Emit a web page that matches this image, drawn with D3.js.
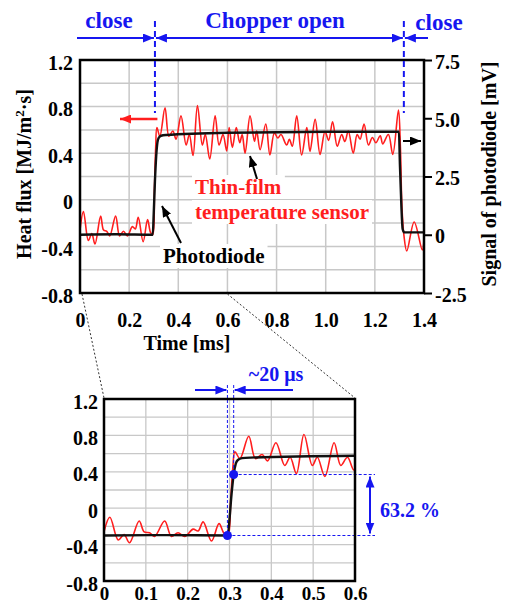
<!DOCTYPE html>
<html>
<head>
<meta charset="utf-8">
<script src="https://cdn.jsdelivr.net/npm/d3@7"></script>
<style>
  body { margin: 0; background: #fff; }
  text { font-family: "Liberation Serif", "DejaVu Serif", "Times New Roman", serif; font-weight: bold; }
</style>
</head>
<body>
<script>
// heat flux from the thin-film sensor (red), MJ/m2s
const sensorTime = [0.000, 0.014, 0.034, 0.048, 0.061, 0.084, 0.096, 0.109, 0.121, 0.145, 0.161, 0.177, 0.193, 0.213, 0.225, 0.237, 0.257, 0.275, 0.287, 0.296,
  0.303, 0.308, 0.313, 0.325, 0.346, 0.362, 0.378, 0.391, 0.411, 0.432, 0.445, 0.460, 0.478, 0.498, 0.510, 0.528, 0.550, 0.566, 0.582, 0.597,
  0.607, 0.620, 0.636, 0.650, 0.660, 0.672, 0.692, 0.710, 0.719, 0.733, 0.756, 0.773, 0.791, 0.805, 0.818, 0.841, 0.852, 0.864, 0.882, 0.902,
  0.923, 0.936, 0.957, 0.977, 0.997, 1.012, 1.028, 1.047, 1.065, 1.078, 1.092, 1.112, 1.128, 1.140, 1.156, 1.174, 1.190, 1.204, 1.222, 1.232,
  1.255, 1.273, 1.296, 1.304, 1.310, 1.318, 1.330, 1.360, 1.393, 1.400];
const sensorFlux = [-0.26, -0.10, -0.35, -0.29, -0.38, -0.14, -0.26, -0.27, -0.31, -0.14, -0.31, -0.27, -0.31, -0.23, -0.25, -0.15, -0.36, -0.17, -0.28, -0.30,
  0.10, 0.45, 0.62, 0.545, 0.79, 0.545, 0.59, 0.52, 0.72, 0.47, 0.56, 0.38, 0.81, 0.47, 0.56, 0.35, 0.72, 0.47, 0.56, 0.42,
  0.62, 0.45, 0.62, 0.49, 0.56, 0.40, 0.72, 0.50, 0.59, 0.43, 0.65, 0.385, 0.575, 0.53, 0.56, 0.47, 0.52, 0.46, 0.72, 0.385,
  0.62, 0.415, 0.69, 0.39, 0.585, 0.51, 0.67, 0.46, 0.56, 0.50, 0.59, 0.40, 0.56, 0.52, 0.65, 0.47, 0.535, 0.49, 0.55, 0.48,
  0.56, 0.39, 0.77, 0.45, -0.05, -0.30, -0.44, -0.19, -0.43, -0.34];

// photodiode signal (black), mV
const diodeTime = [0, 0.15, 0.296, 0.300, 0.305, 0.310, 0.315, 0.320, 0.330, 0.350, 0.600, 1.000, 1.298, 1.302, 1.308, 1.313, 1.320, 1.400];
const diodeSignal = [0, 0.02, 0, 0.9, 2.3, 3.35, 3.95, 4.15, 4.25, 4.28, 4.38, 4.42, 4.42, 3.0, 1.2, 0.25, 0.1, 0.1];

// tick labels
const fluxTicks = [-0.8, -0.4, 0, 0.4, 0.8, 1.2];
const fluxLabels = ['-0.8', '-0.4', '0', '0.4', '0.8', '1.2'];
const signalTicks = [-2.5, 0, 2.5, 5.0, 7.5];
const signalLabels = ['-2.5', '0', '2.5', '5.0', '7.5'];
const timeTicks = [0, 0.2, 0.4, 0.6, 0.8, 1.0, 1.2, 1.4];
const timeLabels = ['0', '0.2', '0.4', '0.6', '0.8', '1.0', '1.2', '1.4'];
const zoomTicks = [0, 0.1, 0.2, 0.3, 0.4, 0.5, 0.6];
const zoomLabels = ['0', '0.1', '0.2', '0.3', '0.4', '0.5', '0.6'];

// chopper events and 63.2 % points
const chopperOpen = 0.305, chopperClose = 1.318;
const markTime = [0.295, 0.310];
const markFlux = [-0.30, 0.37];

const BLUE = '#1616f0', RED = '#ff1e1e', GRID = '#c8c8c8';

const svg = d3.select('body').append('svg').attr('width', 512).attr('height', 607);

const defs = svg.append('defs');
function marker(id, color, w, h) {
  defs.append('marker').attr('id', id)
    .attr('markerUnits', 'userSpaceOnUse')
    .attr('viewBox', `0 0 ${w} ${h}`)
    .attr('refX', w).attr('refY', h / 2)
    .attr('markerWidth', w).attr('markerHeight', h)
    .attr('orient', 'auto-start-reverse')
    .append('path').attr('d', `M0,0L${w},${h / 2}L0,${h}Z`).attr('fill', color);
}
marker('ab', BLUE, 11, 9);
marker('ar', RED, 11, 9);
marker('ak', '#000', 11, 9);

// scales
const x = d3.scaleLinear().domain([0, 1.4]).range([80, 424]);
const y = d3.scaleLinear().domain([-0.8, 1.2]).range([293, 60]);
const yR = d3.scaleLinear().domain([-2.5, 7.5]).range([293, 60]);
const xz = d3.scaleLinear().domain([0, 0.6]).range([104, 355]);
const yz = d3.scaleLinear().domain([-0.8, 1.2]).range([581, 399]);

// mV -> heat flux axis position
const toFlux = mv => y.invert(yR(mv));

const sensor = sensorTime.map((t, i) => [t, sensorFlux[i]]);
const diode = diodeTime.map((t, i) => [t, diodeSignal[i]]);

// ---------- main chart ----------
const main = svg.append('g');
main.append('g').selectAll('line').data(d3.range(-0.6, 1.2, 0.2)).join('line')
  .attr('x1', 80).attr('x2', 424).attr('y1', d => y(d)).attr('y2', d => y(d))
  .attr('stroke', GRID).attr('stroke-width', 1.5);
main.append('g').selectAll('line').data([0.2, 0.4, 0.6, 0.8, 1.0, 1.2]).join('line')
  .attr('y1', 60).attr('y2', 293).attr('x1', d => x(d)).attr('x2', d => x(d))
  .attr('stroke', GRID).attr('stroke-width', 1.5);

// annotation labels with white boxes
function label(g, lines, color) {
  const t = g.append('g');
  lines.forEach(l => {
    const tx = t.append('text').attr('x', l[0]).attr('y', l[1]).attr('font-size', 21).attr('fill', color).text(l[2]);
    const b = tx.node().getBBox();
    t.insert('rect', 'text').attr('x', b.x - 3).attr('y', b.y).attr('width', b.width + 6).attr('height', b.height).attr('fill', '#fff');
  });
}

main.append('path').datum(sensor)
  .attr('fill', 'none').attr('stroke', RED).attr('stroke-width', 1.6)
  .attr('d', d3.line().x(d => x(d[0])).y(d => y(d[1])).curve(d3.curveCatmullRom));
main.append('path').datum(diode)
  .attr('fill', 'none').attr('stroke', '#111').attr('stroke-width', 2.4)
  .attr('d', d3.line().x(d => x(d[0])).y(d => yR(d[1])).curve(d3.curveMonotoneX));

label(main, [[195, 194, 'Thin-film'], [195, 219, 'temperature sensor']], RED);
label(main, [[163, 263, 'Photodiode']], '#000');

main.append('rect').attr('x', 80).attr('y', 60).attr('width', 344).attr('height', 233)
  .attr('fill', 'none').attr('stroke', '#000').attr('stroke-width', 2.5);

main.append('g').attr('transform', 'translate(80,0)')
  .call(d3.axisLeft(y).tickValues(fluxTicks).tickFormat((d, i) => fluxLabels[i]).tickSize(0).tickPadding(7))
  .call(g => g.select('.domain').remove())
  .selectAll('text').attr('font-size', 20).attr('dy', '0.45em').attr('fill', '#000');
main.append('g').attr('transform', 'translate(424,0)')
  .call(d3.axisRight(yR).tickValues(signalTicks).tickFormat((d, i) => signalLabels[i]).tickSize(8).tickPadding(3))
  .call(g => g.select('.domain').remove())
  .call(g => g.selectAll('line').attr('stroke-width', 2))
  .selectAll('text').attr('font-size', 20).attr('dy', '0.4em').attr('fill', '#000');
main.append('g').attr('transform', 'translate(0,293)')
  .call(d3.axisBottom(x).tickValues(timeTicks).tickFormat((d, i) => timeLabels[i]).tickSize(0).tickPadding(20))
  .call(g => g.select('.domain').remove())
  .selectAll('text').attr('font-size', 20).attr('fill', '#000');

main.append('text').attr('x', 187).attr('y', 350).attr('text-anchor', 'middle').attr('font-size', 20).text('Time [ms]');
main.append('text').attr('transform', 'translate(31,174) rotate(-90)').attr('text-anchor', 'middle').attr('font-size', 20)
  .html('Heat flux [MJ/m<tspan dy="-7" font-size="13">2</tspan><tspan dy="7">·s]</tspan>');
main.append('text').attr('transform', 'translate(496,174) rotate(-90)').attr('text-anchor', 'middle').attr('font-size', 20)
  .text('Signal of photodiode [mV]');

// series pointer arrows
main.append('line').attr('x1', x(0.315)).attr('x2', 120).attr('y1', 119).attr('y2', 119)
  .attr('stroke', RED).attr('stroke-width', 2.5).attr('marker-end', 'url(#ar)');
main.append('line').attr('x1', 403).attr('x2', 421).attr('y1', 141).attr('y2', 141)
  .attr('stroke', '#000').attr('stroke-width', 2).attr('marker-end', 'url(#ak)');
main.append('line').attr('x1', 257).attr('y1', 179).attr('x2', 250).attr('y2', 156)
  .attr('stroke', '#000').attr('stroke-width', 2).attr('marker-end', 'url(#ak)');
main.append('line').attr('x1', 181).attr('y1', 243).attr('x2', 162).attr('y2', 206)
  .attr('stroke', '#000').attr('stroke-width', 2).attr('marker-end', 'url(#ak)');

// chopper header
const header = svg.append('g');
[chopperOpen, chopperClose].forEach(t => {
  header.append('line').attr('x1', x(t)).attr('x2', x(t)).attr('y1', 21).attr('y2', 113)
    .attr('stroke', BLUE).attr('stroke-width', 2).attr('stroke-dasharray', '6,4');
});
header.append('line').attr('x1', 77).attr('x2', x(chopperOpen) - 1).attr('y1', 38).attr('y2', 38)
  .attr('stroke', BLUE).attr('stroke-width', 2).attr('marker-end', 'url(#ab)');
header.append('line').attr('x1', x(chopperOpen) + 1).attr('x2', x(chopperClose) - 1).attr('y1', 38).attr('y2', 38)
  .attr('stroke', BLUE).attr('stroke-width', 2).attr('marker-start', 'url(#ab)').attr('marker-end', 'url(#ab)');
header.append('line').attr('x1', 428).attr('x2', x(chopperClose) + 1).attr('y1', 38).attr('y2', 38)
  .attr('stroke', BLUE).attr('stroke-width', 2).attr('marker-end', 'url(#ab)');
header.append('text').attr('x', 109).attr('y', 28).attr('text-anchor', 'middle').attr('font-size', 23).attr('fill', BLUE).text('close');
header.append('text').attr('x', 275).attr('y', 28).attr('text-anchor', 'middle').attr('font-size', 23).attr('fill', BLUE).text('Chopper open');
header.append('text').attr('x', 439).attr('y', 30).attr('text-anchor', 'middle').attr('font-size', 23).attr('fill', BLUE).text('close');

// connectors to zoom
svg.append('line').attr('x1', x(0) + 2).attr('y1', 294).attr('x2', xz(0)).attr('y2', 398)
  .attr('stroke', '#333').attr('stroke-width', 1).attr('stroke-dasharray', '2,2');
svg.append('line').attr('x1', x(0.6)).attr('y1', 294).attr('x2', xz(0.6)).attr('y2', 398)
  .attr('stroke', '#333').attr('stroke-width', 1).attr('stroke-dasharray', '2,2');

// ---------- zoomed chart ----------
const zm = svg.append('g');
defs.append('clipPath').attr('id', 'zclip').append('rect').attr('x', 104).attr('y', 399).attr('width', 251).attr('height', 182);
zm.append('g').selectAll('line').data(d3.range(-0.6, 1.2, 0.2)).join('line')
  .attr('x1', 104).attr('x2', 355).attr('y1', d => yz(d)).attr('y2', d => yz(d))
  .attr('stroke', GRID).attr('stroke-width', 1.3);
zm.append('g').selectAll('line').data([0.1, 0.2, 0.3, 0.4, 0.5]).join('line')
  .attr('y1', 399).attr('y2', 581).attr('x1', d => xz(d)).attr('x2', d => xz(d))
  .attr('stroke', GRID).attr('stroke-width', 1.3);

const zc = zm.append('g').attr('clip-path', 'url(#zclip)');
zc.append('path').datum(sensor)
  .attr('fill', 'none').attr('stroke', RED).attr('stroke-width', 1.6)
  .attr('d', d3.line().x(d => xz(d[0])).y(d => yz(d[1])).curve(d3.curveCatmullRom));
zc.append('path').datum(diode)
  .attr('fill', 'none').attr('stroke', '#111').attr('stroke-width', 2.4)
  .attr('d', d3.line().x(d => xz(d[0])).y(d => yz(toFlux(d[1]))).curve(d3.curveMonotoneX));

// 63.2 % guides
const xEnd = 375;
zm.append('line').attr('x1', xz(markTime[0])).attr('x2', xz(markTime[0])).attr('y1', 385).attr('y2', yz(markFlux[0]))
  .attr('stroke', BLUE).attr('stroke-width', 1).attr('stroke-dasharray', '3,2');
zm.append('line').attr('x1', xz(markTime[1])).attr('x2', xz(markTime[1])).attr('y1', 385).attr('y2', yz(markFlux[1]))
  .attr('stroke', BLUE).attr('stroke-width', 1).attr('stroke-dasharray', '3,2');
markFlux.forEach((v, i) => {
  zm.append('line').attr('x1', xz(markTime[i])).attr('x2', xEnd).attr('y1', yz(v)).attr('y2', yz(v))
    .attr('stroke', BLUE).attr('stroke-width', 1).attr('stroke-dasharray', '3,2');
});
zm.append('g').selectAll('circle').data(markTime).join('circle')
  .attr('cx', d => xz(d)).attr('cy', (d, i) => yz(markFlux[i])).attr('r', 4.5).attr('fill', BLUE);
zm.append('line').attr('x1', 370).attr('x2', 370).attr('y1', yz(markFlux[1]) + 2).attr('y2', yz(markFlux[0]) - 2)
  .attr('stroke', BLUE).attr('stroke-width', 2).attr('marker-start', 'url(#ab)').attr('marker-end', 'url(#ab)');
zm.append('text').attr('x', 380).attr('y', 517).attr('font-size', 20).attr('fill', BLUE).text('63.2 %');

zm.append('line').attr('x1', 195).attr('x2', xz(markTime[0]) - 1).attr('y1', 390).attr('y2', 390)
  .attr('stroke', BLUE).attr('stroke-width', 2).attr('marker-end', 'url(#ab)');
zm.append('line').attr('x1', 293).attr('x2', xz(markTime[1]) + 1).attr('y1', 390).attr('y2', 390)
  .attr('stroke', BLUE).attr('stroke-width', 2).attr('marker-end', 'url(#ab)');
zm.append('text').attr('x', 276).attr('y', 381).attr('text-anchor', 'middle').attr('font-size', 20).attr('fill', BLUE).text('~20 μs');

zm.append('rect').attr('x', 104).attr('y', 399).attr('width', 251).attr('height', 182)
  .attr('fill', 'none').attr('stroke', '#000').attr('stroke-width', 2.5);
zm.append('g').attr('transform', 'translate(104,0)')
  .call(d3.axisLeft(yz).tickValues(fluxTicks).tickFormat((d, i) => fluxLabels[i]).tickSize(0).tickPadding(6))
  .call(g => g.select('.domain').remove())
  .selectAll('text').attr('font-size', 20).attr('dy', '0.45em').attr('fill', '#000');
zm.append('g').attr('transform', 'translate(0,581)')
  .call(d3.axisBottom(xz).tickValues(zoomTicks).tickFormat((d, i) => zoomLabels[i]).tickSize(0).tickPadding(6))
  .call(g => g.select('.domain').remove())
  .selectAll('text').attr('font-size', 19).attr('fill', '#000');
</script>
</body>
</html>
